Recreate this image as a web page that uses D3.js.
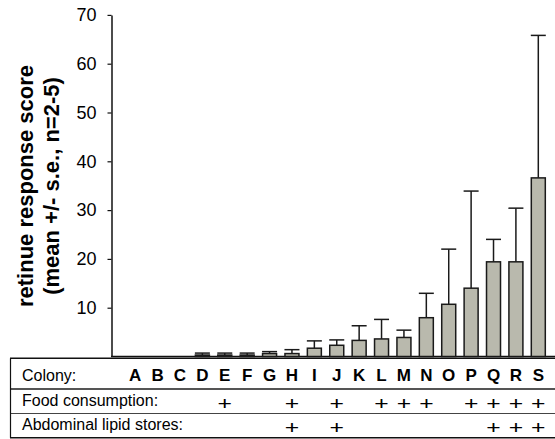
<!DOCTYPE html>
<html>
<head>
<meta charset="utf-8">
<script src="https://cdn.jsdelivr.net/npm/d3@7"></script>
<style>
  body { margin: 0; background: #fff; }
  svg { display: block; font-family: "Liberation Sans", Arial, sans-serif; }
</style>
</head>
<body>
<div id="chart"></div>
<script>
// chart data
var colonies = ['A','B','C','D','E','F','G','H','I','J','K','L','M','N','O','P','Q','R','S'];
var means = [0, 0, 0, 0.3, 0.3, 0.3, 0.6, 0.6, 1.7, 2.3, 3.3, 3.6, 3.9, 7.95, 10.7, 14.0, 19.4, 19.4, 36.6];
var stdErr = [0, 0, 0, 0.4, 0.4, 0.4, 0.4, 0.8, 1.5, 1.1, 3.0, 4.0, 1.5, 5.0, 11.3, 19.9, 4.6, 11.0, 29.2];
var foodConsumption = ['E','H','J','L','M','N','P','Q','R','S'];
var lipidStores = ['H','J','Q','R','S'];
var yTicks = [10, 20, 30, 40, 50, 60, 70];
var rowLabels = ['Colony:', 'Food consumption:', 'Abdominal lipid stores:'];

var svgWidth = 555;
var svgHeight = 439;

var svg = d3.select('#chart')
  .append('svg')
  .attr('width', svgWidth)
  .attr('height', svgHeight);

var xScale = d3.scaleBand()
  .domain(colonies)
  .range([124, 549.5])
  .paddingInner(0.375)
  .paddingOuter(0.1875);

var yScale = d3.scaleLinear()
  .domain([0, 70])
  .range([356.5, 14.9]);

// y axis
var leftAxis = d3.axisLeft(yScale)
  .tickValues(yTicks)
  .tickSize(4)
  .tickPadding(11)
  .tickSizeOuter(0);

var yAxis = svg.append('g')
  .attr('transform', 'translate(111.5, 0)')
  .call(leftAxis);
yAxis.select('.domain').attr('stroke', '#111').attr('stroke-width', 1.5);
yAxis.selectAll('.tick line').attr('stroke', '#111').attr('stroke-width', 1.2);
yAxis.selectAll('.tick text')
  .attr('fill', '#000')
  .style('font-size', '18px')
  .style('font-family', '"Liberation Sans", Arial, sans-serif');

// baseline
svg.append('line')
  .attr('x1', 111)
  .attr('x2', svgWidth)
  .attr('y1', yScale(0))
  .attr('y2', yScale(0))
  .attr('stroke', '#111')
  .attr('stroke-width', 1.5);

// error bars
var errGroup = svg.append('g');
colonies.forEach(function(c, i) {
  if (means[i] <= 0) return;
  var cx = xScale(c) + xScale.bandwidth() / 2;
  var top = yScale(means[i] + stdErr[i]);
  errGroup.append('line')
    .attr('x1', cx).attr('x2', cx)
    .attr('y1', yScale(means[i])).attr('y2', top)
    .attr('stroke', '#1a1a1a').attr('stroke-width', 1.5);
  errGroup.append('line')
    .attr('x1', cx - 7.5).attr('x2', cx + 7.5)
    .attr('y1', top).attr('y2', top)
    .attr('stroke', '#1a1a1a').attr('stroke-width', 1.5);
});

// bars
svg.selectAll('rect.bar')
  .data(colonies.filter(function(c, i) { return means[i] > 0; }))
  .enter()
  .append('rect')
  .attr('class', 'bar')
  .attr('x', d => xScale(d))
  .attr('y', d => yScale(means[colonies.indexOf(d)]))
  .attr('width', xScale.bandwidth())
  .attr('height', d => yScale(0) - yScale(means[colonies.indexOf(d)]))
  .attr('fill', '#b9b9ad')
  .attr('stroke', '#1a1a1a')
  .attr('stroke-width', 1.5);

// y axis label
var yLabel = svg.append('g')
  .attr('transform', 'translate(0, 186) rotate(-90)')
  .style('font-size', '22px')
  .style('font-weight', 'bold')
  .attr('text-anchor', 'middle');
yLabel.append('text').attr('x', 0).attr('y', 32.5).text('retinue response score');
yLabel.append('text').attr('x', 0).attr('y', 58.5).text('(mean +/- s.e., n=2-5)');

// table under chart
var tableTop = 358.3;
var rowLines = [389, 413.5, 437.8];
svg.append('line')
  .attr('x1', 10).attr('x2', svgWidth)
  .attr('y1', tableTop).attr('y2', tableTop)
  .attr('stroke', '#111').attr('stroke-width', 1.5);
svg.append('line')
  .attr('x1', 10).attr('x2', svgWidth)
  .attr('y1', rowLines[0]).attr('y2', rowLines[0])
  .attr('stroke', '#555').attr('stroke-width', 2);
svg.append('line')
  .attr('x1', 10).attr('x2', svgWidth)
  .attr('y1', rowLines[1]).attr('y2', rowLines[1])
  .attr('stroke', '#444').attr('stroke-width', 1.2);
svg.append('line')
  .attr('x1', 10).attr('x2', svgWidth)
  .attr('y1', rowLines[2]).attr('y2', rowLines[2])
  .attr('stroke', '#111').attr('stroke-width', 1.5);
svg.append('line')
  .attr('x1', 10.5).attr('x2', 10.5)
  .attr('y1', tableTop).attr('y2', rowLines[2])
  .attr('stroke', '#111').attr('stroke-width', 1.2);

var rowBaselines = [381, 405.5, 430];
svg.selectAll('text.rowLabel')
  .data(rowLabels)
  .enter()
  .append('text')
  .attr('class', 'rowLabel')
  .attr('x', 22)
  .attr('y', (d, i) => rowBaselines[i])
  .style('font-size', '16px')
  .text(d => d);

svg.selectAll('text.colony')
  .data(colonies)
  .enter()
  .append('text')
  .attr('class', 'colony')
  .attr('x', d => xScale(d) + xScale.bandwidth() / 2)
  .attr('y', rowBaselines[0])
  .attr('text-anchor', 'middle')
  .style('font-size', '17px')
  .style('font-weight', 'bold')
  .text(d => d);

// plus marks, drawn a bit wider than tall like the original
var plusRows = [foodConsumption, lipidStores];
plusRows.forEach(function(list, r) {
  svg.selectAll('g.plus' + r)
    .data(list)
    .enter()
    .append('g')
    .attr('class', 'plus' + r)
    .attr('transform', d => `translate(${xScale(d) + xScale.bandwidth() / 2}, ${rowBaselines[r + 1] + 4}) scale(1.3, 1)`)
    .append('text')
    .attr('text-anchor', 'middle')
    .style('font-size', '19px')
    .text('+');
});
</script>
</body>
</html>
